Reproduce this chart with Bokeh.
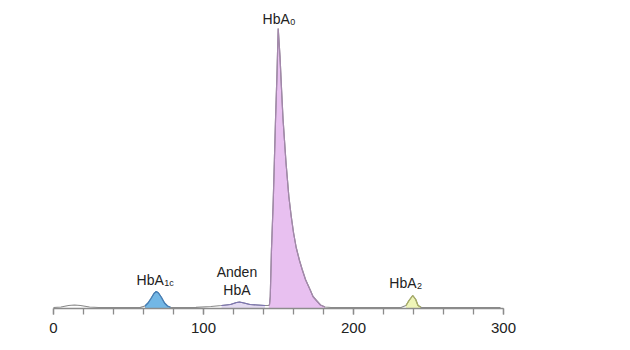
import numpy as np
from bokeh.plotting import figure
from bokeh.models import Range1d, FixedTicker
from bokeh.core.properties import value
from bokeh.embed import file_html
from bokeh.resources import INLINE

# chromatogram trace (retention time, signal)
time = [0, 5, 10, 14, 18, 24, 30, 40, 50, 58, 61, 63, 65, 67, 68.5, 70, 72, 74, 76, 78,
        85, 95, 105, 112, 118, 122, 124, 127, 131, 136, 141, 143.5,
        144, 144.5, 145.3, 146.5, 147.3, 148, 149, 149.8, 151, 152, 153, 155, 156.9,
        158.5, 160, 161.8, 164, 165.8, 168, 171.3, 173, 175.3, 178, 181, 185,
        200, 220, 232, 235, 237, 239.5, 241.5, 243, 245, 260, 280, 298]
signal = [1, 1.5, 3, 3.5, 3, 1.5, 1, 1, 1, 1.2, 2.5, 5.5, 10, 15, 17, 15.5, 11, 5.5, 2.5, 1.2,
          1, 1.2, 2, 3, 4, 6, 6.5, 5.5, 4, 3.5, 3, 3,
          4, 12, 58, 108, 150, 188, 235, 280, 252, 220, 190, 146, 112,
          92, 76, 61, 48, 39, 29, 18, 12, 8, 3.5, 1.5, 1,
          1, 1, 1.2, 3, 8, 13, 9, 3, 1.2, 1, 1, 1]

peak_names = ["HbA1c", "Anden HbA", "HbA0", "HbA2"]
peak_start = [59, 108, 143.5, 233]
peak_end = [78, 141, 181, 245]
peak_fill = ["#72b7e6", "#e4dbf2", "#e8c0f0", "#eff5b8"]
peak_line = ["#3d7fbf", "#7a72b4", "#a487ad", "#aab162"]

axis_ticks = [0, 100, 200, 300]
minor_ticks = list(range(0, 301, 20))

p = figure(width=630, height=350, output_backend="svg", toolbar_location=None,
           x_range=Range1d(-53 / 1.5, 577 / 1.5), y_range=Range1d(0, 308),
           y_axis_location=None, min_border_left=0, min_border_right=0,
           min_border_top=0, min_border_bottom=42)
p.grid.visible = False
p.outline_line_color = None
p.background_fill_color = "white"
p.border_fill_color = "white"

t = np.array(time, dtype=float)
s = np.array(signal, dtype=float)

for lo, hi, fc, lc in zip(peak_start, peak_end, peak_fill, peak_line):
    m = (t >= lo) & (t <= hi)
    p.varea(x=t[m], y1=np.zeros(m.sum()), y2=s[m], fill_color=fc, fill_alpha=1.0)

p.line(t, s, line_color="#8a8a8a", line_width=1.2)
for lo, hi, fc, lc in zip(peak_start, peak_end, peak_fill, peak_line):
    m = (t >= lo) & (t <= hi)
    p.line(t[m], s[m], line_color=lc, line_width=1.2)

ax = p.xaxis[0]
ax.bounds = (0, 300)
ax.ticker = FixedTicker(ticks=axis_ticks, minor_ticks=minor_ticks)
ax.axis_line_color = "#8c8c8c"
ax.axis_line_width = 1.5
ax.major_tick_line_color = "#8c8c8c"
ax.minor_tick_line_color = "#8c8c8c"
ax.major_tick_line_width = 1.3
ax.minor_tick_line_width = 1.3
ax.major_tick_in = 0
ax.major_tick_out = 6
ax.minor_tick_in = 0
ax.minor_tick_out = 6
ax.major_label_standoff = 8
ax.major_label_text_font = "Liberation Sans"
ax.major_label_text_font_size = "15px"
ax.major_label_text_color = "#222222"

font = value("Liberation Sans")
col = "#222222"
# HbA0
p.text(x=[157.5], y=[290], text=["HbA"], text_align="right", text_baseline="alphabetic",
       text_font=font, text_font_size="14px", text_color=col)
p.text(x=[157.8], y=[287], text=["0"], text_align="left", text_baseline="alphabetic",
       text_font=font, text_font_size="9px", text_color=col)
# HbA1c
p.text(x=[73.5], y=[28.5], text=["HbA"], text_align="right", text_baseline="alphabetic",
       text_font=font, text_font_size="14px", text_color=col)
p.text(x=[73.8], y=[25.5], text=["1c"], text_align="left", text_baseline="alphabetic",
       text_font=font, text_font_size="9px", text_color=col)
# HbA2
p.text(x=[242], y=[26], text=["HbA"], text_align="right", text_baseline="alphabetic",
       text_font=font, text_font_size="14px", text_color=col)
p.text(x=[242.3], y=[23], text=["2"], text_align="left", text_baseline="alphabetic",
       text_font=font, text_font_size="9px", text_color=col)
# Anden HbA
p.text(x=[122.3, 122.3], y=[37, 18.5], text=["Anden", "HbA"], text_align="center",
       text_baseline="alphabetic", text_font=font, text_font_size="14px", text_color=col)

open("out.html", "w").write(file_html(p, INLINE))
